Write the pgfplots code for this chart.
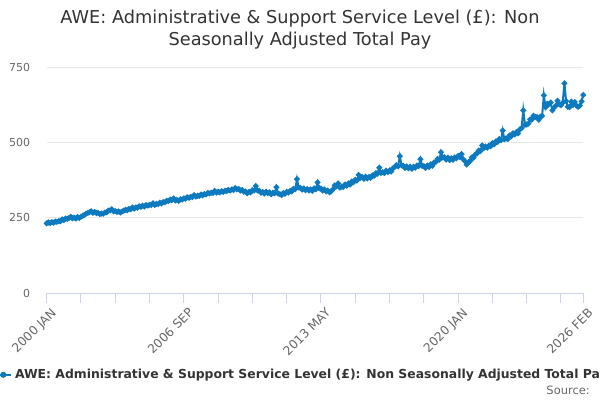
\documentclass[border=0pt]{standalone}
\usepackage{fontspec}
\setmainfont{DejaVu Sans}
\usepackage{pgfplots}
\usepackage{pgfplotstable}
\pgfplotsset{compat=1.18}
\definecolor{cline}{RGB}{13,122,192}
\definecolor{caxis}{HTML}{CCD6EB}
\definecolor{cgrid}{HTML}{E6E6E6}
\definecolor{clabel}{HTML}{666666}
\definecolor{ctitle}{HTML}{333333}

\pgfplotstableread{
v
231
234
232
235
233
237
236
239
238
244
242
247
246
249
253
248
250
247
252
249
253
256
259
263
266
268
271
266
269
265
266
262
264
263
267
268
273
274
278
271
272
269
271
267
271
273
276
275
279
278
284
280
284
283
288
286
290
287
292
290
293
292
298
292
296
295
300
297
302
301
306
305
310
308
314
307
309
306
311
310
314
313
318
316
319
318
325
320
323
322
327
324
328
327
332
330
333
332
339
333
336
334
338
335
339
338
342
340
344
342
348
344
345
340
342
336
337
331
336
334
341
340
355
340
339
333
335
330
336
331
334
328
333
331
351
330
328
325
332
329
336
333
339
337
346
344
378
350
349
343
347
341
345
340
344
339
347
344
367
348
347
340
344
337
340
334
338
344
357
354
364
350
353
352
360
356
364
360
370
368
376
373
392
382
385
379
386
380
385
382
390
389
398
396
416
398
401
398
406
401
407
403
414
418
424
420
454
424
422
415
420
414
419
412
419
416
423
421
444
422
421
415
423
418
427
422
433
435
445
442
467
450
451
443
449
441
447
442
450
447
455
451
461
444
437
426
434
438
450
449
460
463
473
471
490
481
486
482
489
487
497
493
503
501
511
507
539
510
513
511
523
520
530
526
534
530
543
547
606
558
559
562
576
575
588
584
584
575
585
588
656
616
628
626
632
606
615
622
638
626
623
631
696
637
618
617
635
624
634
622
618
622
636
657
}\awedata

\begin{document}
\begin{tikzpicture}
\useasboundingbox (0,0) rectangle (450pt,300pt);
\clip (0,0) rectangle (450pt,300pt);
\node[align=center, font=\fontsize{13.3}{16.5}\selectfont, text=ctitle] at (225pt,277.8pt)
  {AWE: Administrative \& Support Service Level (£): Non\\Seasonally Adjusted Total Pay};
\node[anchor=base east, font=\fontsize{8.6}{10}\selectfont, text=clabel, inner sep=0pt] at (442.5pt,4pt) {Source:};
\begin{axis}[
  at={(35pt,80.25pt)}, anchor=south west, scale only axis,
  width=402.45pt, height=169.5pt,
  xmin=0, xmax=313, ymin=0, ymax=750,
  axis x line=bottom, axis y line=left,
  x axis line style={draw=caxis, line width=0.75pt, -},
  y axis line style={draw=none},
  xtick={0,20,...,300,313},
  xticklabels={2000 JAN,,,,2006 SEP,,,,2013 MAY,,,,2020 JAN,,,,2026 FEB},
  ytick={0,250,500,750},
  ymajorgrids, grid style={cgrid, line width=0.75pt},
  major tick length=7.5pt, tick align=outside,
  xtick style={draw=caxis, line width=0.75pt},
  ytick style={draw=none},
  tick label style={font=\fontsize{8.25}{10}\selectfont, text=clabel},
  /pgf/number format/assume math mode=true,
  /pgf/number format/1000 sep={},
  xticklabel style={rotate=45, anchor=north east, inner sep=1pt, font=\fontsize{9.2}{11}\selectfont, xshift=1pt, yshift=-3pt},
  yticklabel style={xshift=-1.3pt},
  legend style={at={(-0.098,-0.362)}, anchor=west, draw=none, fill=none,
    font=\bfseries\fontsize{9.3}{11}\selectfont, text=ctitle, inner sep=0pt},
  legend image code/.code={\draw[cline, line width=1.5pt] (0pt,0pt) -- (12pt,0pt);
    \fill[cline] (6pt,0pt) circle (1.5pt);},
]
\addplot[cline, line width=1.5pt, mark=*, mark size=1.3pt, mark options={draw=cline, fill=cline}]
  table[x expr=\coordindex, y=v] {\awedata};
\addlegendentry{AWE: Administrative \& Support Service Level (£): Non Seasonally Adjusted Total Pay}
\end{axis}
\end{tikzpicture}
\end{document}
